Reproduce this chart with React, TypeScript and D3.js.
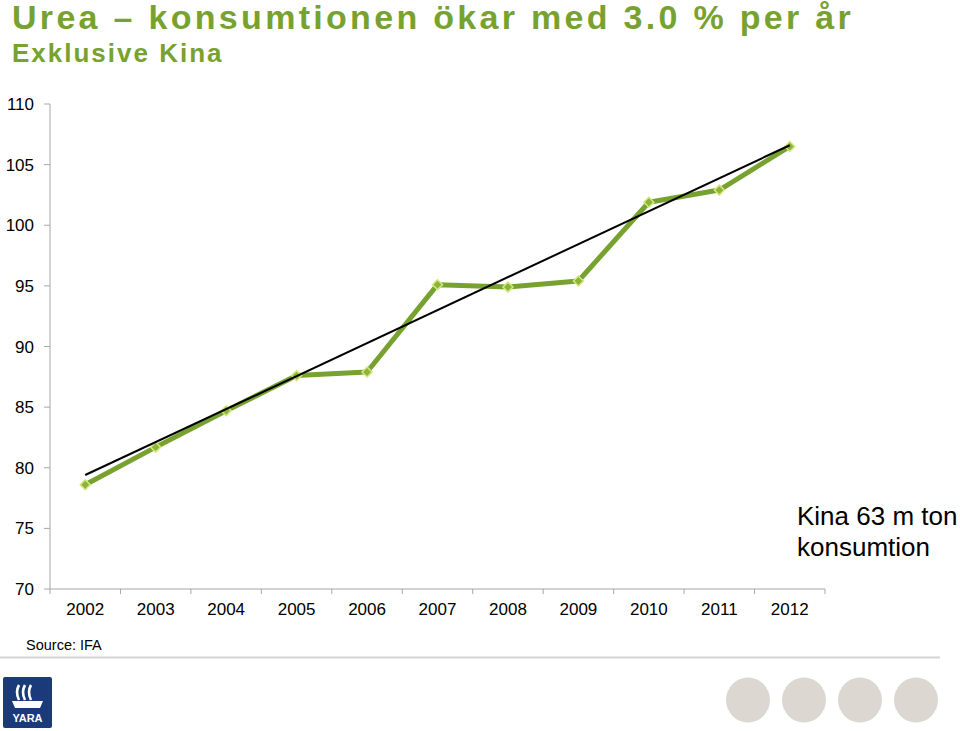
import React from 'react';
import * as d3 from 'd3';

// values (Mt urea, index-ish)
const years = ['2002', '2003', '2004', '2005', '2006', '2007', '2008', '2009', '2010', '2011', '2012'];
const consumption = [78.6, 81.7, 84.7, 87.6, 87.9, 95.1, 94.9, 95.4, 101.9, 102.9, 106.5];
const trendEnds = [79.4, 106.6];
const yTicks = [70, 75, 80, 85, 90, 95, 100, 105, 110];
const footerDots = [0, 1, 2, 3];

const W = 960;
const H = 731;
const green = '#78a22f';
const axisGrey = '#a6a6a6';
const sans = '"Liberation Sans", Arial, sans-serif';

export default function App() {
    const x = d3.scaleBand<string>().domain(years).range([50, 825]);
    const y = d3.scaleLinear().domain([70, 110]).range([589, 104]);
    const cx = (d: string) => (x(d) ?? 0) + x.bandwidth() / 2;

    const line = d3.line<number>()
        .x((_, i) => cx(years[i]))
        .y((d) => y(d));

    const trend = d3.line<number>()
        .x((_, i) => cx(i === 0 ? years[0] : years[years.length - 1]))
        .y((d) => y(d));

    // square turned 45deg, as in the excel marker
    const marker = d3.symbol().type(d3.symbolSquare).size(50)() ?? '';
    const dot = d3.scalePoint<number>().domain(footerDots).range([748, 916]);

    return (
        <svg width={W} height={H} style={{ position: 'absolute', left: 0, top: 0, background: '#fff' }}>
            <text x={12} y={29} fontFamily={sans} fontWeight="bold" fontSize={34} letterSpacing={3.3} fill={green}>
                Urea – konsumtionen ökar med 3.0 % per år
            </text>
            <text x={12} y={62} fontFamily={sans} fontWeight="bold" fontSize={26} letterSpacing={2} fill={green}>
                Exklusive Kina
            </text>

            {/* y axis */}
            <line x1={50} x2={50} y1={y(110)} y2={y(70)} stroke={axisGrey} strokeWidth={1} />
            {yTicks.map((t) => (
                <g key={t}>
                    <line x1={44} x2={50} y1={y(t)} y2={y(t)} stroke={axisGrey} />
                    <text x={34} y={y(t) + 6} textAnchor="end" fontFamily={sans} fontSize={17} fill="#000">{t}</text>
                </g>
            ))}

            {/* x axis */}
            <line x1={50} x2={825} y1={y(70)} y2={y(70)} stroke={axisGrey} />
            {years.map((yr) => (
                <line key={'t' + yr} x1={x(yr)} x2={x(yr)} y1={y(70)} y2={y(70) + 5} stroke={axisGrey} />
            ))}
            <line x1={825} x2={825} y1={y(70)} y2={y(70) + 5} stroke={axisGrey} />
            {years.map((yr) => (
                <text key={yr} x={cx(yr)} y={615} textAnchor="middle" fontFamily={sans} fontSize={17} fill="#000">{yr}</text>
            ))}

            {/* series */}
            <path d={line(consumption) ?? ''} fill="none" stroke={green} strokeWidth={5} strokeLinejoin="round" />
            {consumption.map((v, i) => (
                <path key={i} d={marker} transform={`translate(${cx(years[i])},${y(v)}) rotate(45)`}
                    fill="#8cb43a" stroke="#d2e87e" strokeWidth={1.5} />
            ))}
            <path d={trend(trendEnds) ?? ''} fill="none" stroke="#000" strokeWidth={2} />

            <text x={797} y={525} fontFamily={sans} fontSize={26} fill="#000">Kina 63 m ton</text>
            <text x={797} y={556} fontFamily={sans} fontSize={26} fill="#000">konsumtion</text>

            <text x={26} y={650} fontFamily={'"Liberation Sans Narrow", "Arial Narrow", sans-serif'} fontSize={14.5} fill="#000">
                Source: IFA
            </text>
            <line x1={0} x2={940} y1={657.5} y2={657.5} stroke="#d4d4d4" strokeWidth={2} />

            {/* logo */}
            <g transform="translate(3,677)">
                <rect width={49} height={51} rx={2} fill="#1b3a7a" />
                {[0, 1, 2].map((k) => (
                    <path key={k} d={`M${16 + k * 6},8 q-4,7 0,15`} fill="none" stroke="#fff" strokeWidth={2.6} />
                ))}
                <path d="M9,24 h31 l-3,7 h-25 z" fill="#fff" />
                <text x={24.5} y={45} textAnchor="middle" fontFamily={sans} fontWeight="bold" fontSize={11} fill="#fff">YARA</text>
            </g>

            {footerDots.map((k) => (
                <ellipse key={k} cx={dot(k)} cy={700} rx={22} ry={22.5} fill="#dcd7d1" />
            ))}
        </svg>
    );
}
